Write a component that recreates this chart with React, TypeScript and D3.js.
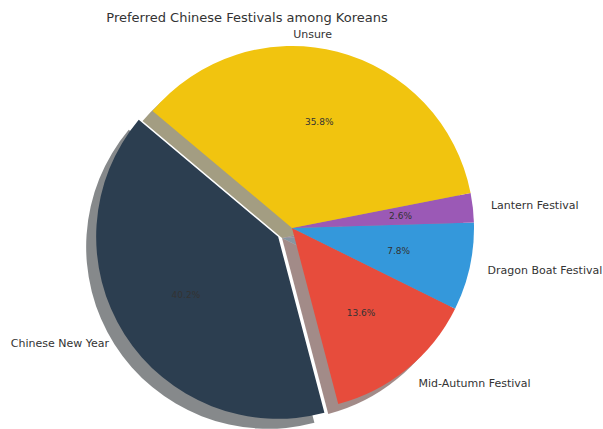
import React from "react";
import * as d3 from "d3";

const labels = ["Chinese New Year", "Mid-Autumn Festival", "Dragon Boat Festival", "Lantern Festival", "Unsure"];
const values = [40.2, 13.6, 7.8, 2.6, 35.8];
const colors = ["#2c3e50", "#e74c3c", "#3498db", "#9b59b6", "#f1c40f"];
const explode = [0.09, 0, 0, 0, 0];
const title = "Preferred Chinese Festivals among Koreans";

const W = 603, H = 429;
const cx = 292, cy = 228, R = 182;
const SH = 10; // shadow shift

function shadowColor(c: string) {
  const rgb = d3.rgb(c);
  return d3.rgb(rgb.r * 0.3, rgb.g * 0.3, rgb.b * 0.3).formatHex();
}

export default function App() {
  const startDeg = 140;
  const pie = d3.pie<number>().sort(null)
    .startAngle(((90 - startDeg) * Math.PI) / 180)
    .endAngle(((90 - startDeg - 360) * Math.PI) / 180);
  const arcs = pie(values);
  const arcGen = d3.arc<any>().innerRadius(0).outerRadius(R);
  const font = "DejaVu Sans, sans-serif";

  const items = arcs.map((a, i) => {
    const m = (a.startAngle + a.endAngle) / 2;
    const ux = Math.sin(m), uy = -Math.cos(m);
    const off = explode[i] * R;
    const ox = cx + ux * off, oy = cy + uy * off;
    return { a, i, m, ux, uy, ox, oy };
  });

  return (
    <svg width={W} height={H} style={{ display: "block", position: "absolute", left: 0, top: 0 }}>
      <rect width={W} height={H} fill="#fff" />
      <text x={247} y={17} textAnchor="middle" dominantBaseline="central" fontFamily={font} fontSize={13} fill="#333">{title}</text>
      {items.map(({ a, i, ox, oy }) => (
        <path key={"s" + i} d={arcGen(a) as string} transform={`translate(${ox - SH},${oy + SH})`}
          fill={shadowColor(colors[i])} fillOpacity={0.5} />
      ))}
      {items.map(({ a, i, ox, oy }) => (
        <path key={"w" + i} d={arcGen(a) as string} transform={`translate(${ox},${oy})`} fill={colors[i]} />
      ))}
      {items.map(({ i, ux, uy, ox, oy }) => {
        const px = ox + ux * R * 0.6, py = oy + uy * R * 0.6;
        return (
          <text key={"p" + i} x={px} y={py} textAnchor="middle" dominantBaseline="central"
            fontFamily={font} fontSize={9} fill="#333">{values[i].toFixed(1)}%</text>
        );
      })}
      {items.map(({ i, ux, uy, ox, oy }) => {
        const lx = ox + ux * R * 1.1, ly = oy + uy * R * 1.1;
        let anchor = ux > 0 ? "start" : "end";
        let x = lx;
        if (Math.abs(ux) < 0.3) { anchor = "end"; x = lx - 10; }
        return (
          <text key={"l" + i} x={x} y={ly} textAnchor={anchor} dominantBaseline="central"
            fontFamily={font} fontSize={11} fill="#333">{labels[i]}</text>
        );
      })}
    </svg>
  );
}
